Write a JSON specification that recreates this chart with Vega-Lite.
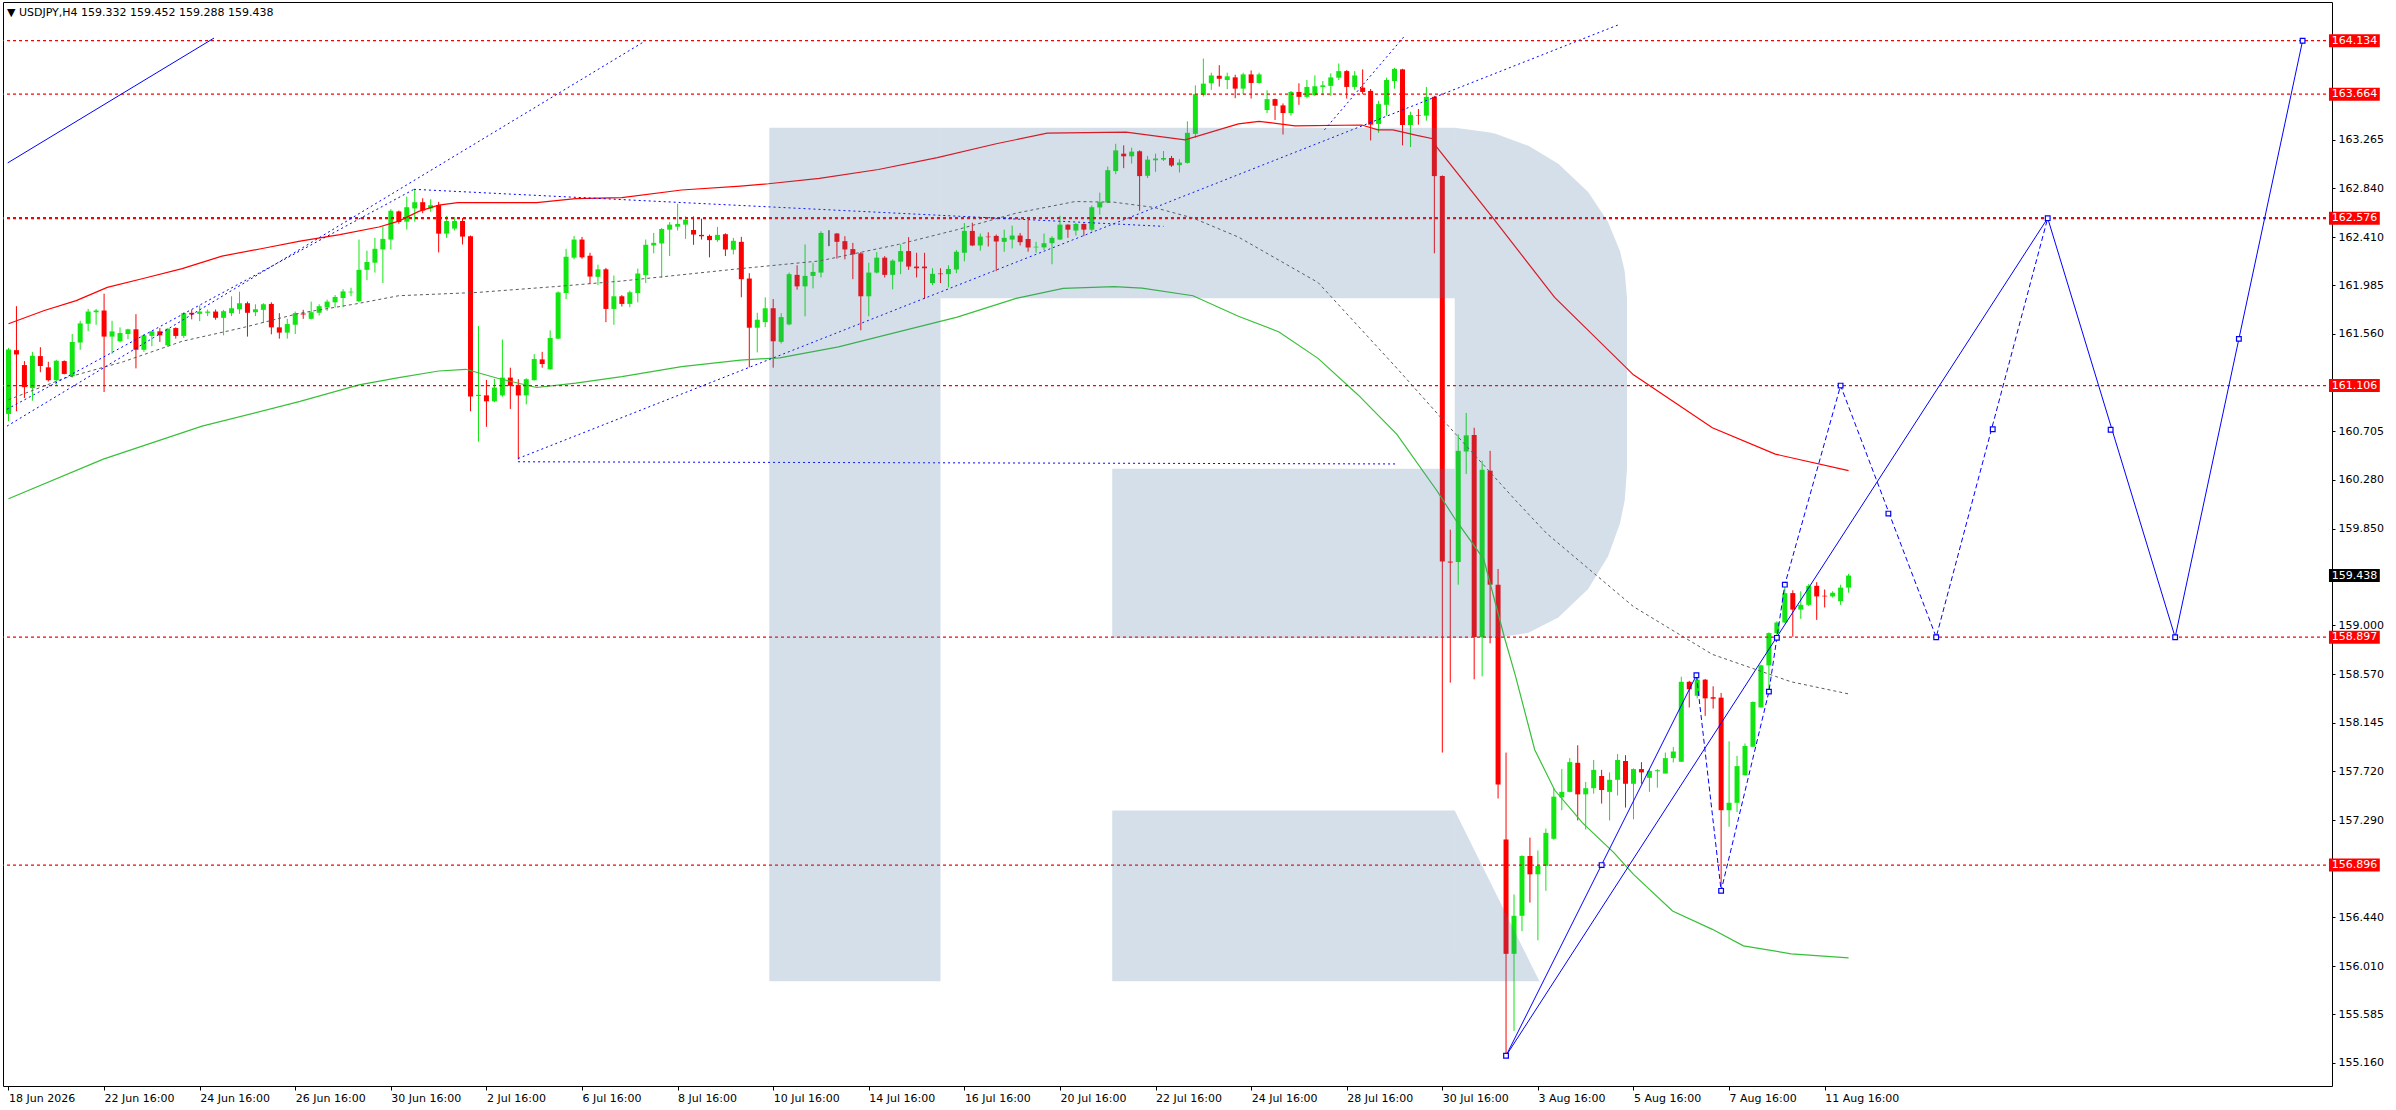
{
  "$schema": "https://vega.github.io/schema/vega-lite/v6.json",
  "width": 2329,
  "height": 1084,
  "autosize": {"type": "none"},
  "padding": {"left": 3, "top": 2, "right": 64, "bottom": 24},
  "background": "#ffffff",
  "title": {"text": "▼  USDJPY,H4  159.332 159.452 159.288 159.438", "anchor": "start", "frame": "group", "offset": -16, "dx": 4, "fontSize": 11, "fontWeight": "normal", "font": "DejaVu Sans", "color": "#000000"},
  "config": {
    "font": "DejaVu Sans",
    "view": {"stroke": "#000000", "strokeWidth": 1},
    "axis": {"labelFont": "DejaVu Sans", "labelFontSize": 11, "labelColor": "#000000", "tickColor": "#000000", "grid": false, "domain": false, "titleOpacity": 0}
  },
  "datasets": {
    "candles": [
      {"i":0,"o":160.857,"h":161.437,"l":160.794,"c":161.423},
      {"i":1,"o":161.417,"h":161.803,"l":160.881,"c":161.379},
      {"i":2,"o":161.286,"h":161.321,"l":160.997,"c":161.092},
      {"i":3,"o":161.084,"h":161.402,"l":160.973,"c":161.368},
      {"i":4,"o":161.365,"h":161.443,"l":161.223,"c":161.278},
      {"i":5,"o":161.266,"h":161.315,"l":161.142,"c":161.153},
      {"i":6,"o":161.153,"h":161.333,"l":161.113,"c":161.324},
      {"i":7,"o":161.321,"h":161.327,"l":161.205,"c":161.208},
      {"i":8,"o":161.188,"h":161.559,"l":161.176,"c":161.489},
      {"i":9,"o":161.484,"h":161.675,"l":161.420,"c":161.652},
      {"i":10,"o":161.649,"h":161.779,"l":161.585,"c":161.756},
      {"i":11,"o":161.750,"h":161.779,"l":161.640,"c":161.765},
      {"i":12,"o":161.765,"h":161.913,"l":161.049,"c":161.536},
      {"i":13,"o":161.536,"h":161.675,"l":161.385,"c":161.582},
      {"i":14,"o":161.495,"h":161.617,"l":161.484,"c":161.568},
      {"i":15,"o":161.559,"h":161.605,"l":161.513,"c":161.600},
      {"i":16,"o":161.600,"h":161.733,"l":161.257,"c":161.420},
      {"i":17,"o":161.420,"h":161.559,"l":161.402,"c":161.547},
      {"i":18,"o":161.542,"h":161.588,"l":161.452,"c":161.582},
      {"i":19,"o":161.582,"h":161.611,"l":161.489,"c":161.547},
      {"i":20,"o":161.460,"h":161.611,"l":161.449,"c":161.605},
      {"i":21,"o":161.611,"h":161.617,"l":161.518,"c":161.542},
      {"i":22,"o":161.542,"h":161.750,"l":161.524,"c":161.742},
      {"i":23,"o":161.745,"h":161.771,"l":161.687,"c":161.730},
      {"i":24,"o":161.736,"h":161.808,"l":161.672,"c":161.756},
      {"i":25,"o":161.745,"h":161.774,"l":161.716,"c":161.756},
      {"i":26,"o":161.756,"h":161.774,"l":161.684,"c":161.701},
      {"i":27,"o":161.701,"h":161.771,"l":161.547,"c":161.759},
      {"i":28,"o":161.742,"h":161.890,"l":161.716,"c":161.785},
      {"i":29,"o":161.776,"h":161.930,"l":161.736,"c":161.829},
      {"i":30,"o":161.829,"h":161.843,"l":161.536,"c":161.745},
      {"i":31,"o":161.750,"h":161.820,"l":161.716,"c":161.776},
      {"i":32,"o":161.771,"h":161.829,"l":161.655,"c":161.820},
      {"i":33,"o":161.823,"h":161.837,"l":161.556,"c":161.617},
      {"i":34,"o":161.617,"h":161.742,"l":161.518,"c":161.571},
      {"i":35,"o":161.571,"h":161.692,"l":161.518,"c":161.646},
      {"i":36,"o":161.640,"h":161.756,"l":161.559,"c":161.742},
      {"i":37,"o":161.739,"h":161.771,"l":161.692,"c":161.730},
      {"i":38,"o":161.692,"h":161.843,"l":161.687,"c":161.750},
      {"i":39,"o":161.745,"h":161.820,"l":161.721,"c":161.803},
      {"i":40,"o":161.791,"h":161.861,"l":161.762,"c":161.843},
      {"i":41,"o":161.837,"h":161.901,"l":161.791,"c":161.884},
      {"i":42,"o":161.875,"h":161.953,"l":161.794,"c":161.933},
      {"i":43,"o":161.924,"h":161.965,"l":161.890,"c":161.930},
      {"i":44,"o":161.846,"h":162.388,"l":161.837,"c":162.122},
      {"i":45,"o":162.122,"h":162.290,"l":162.032,"c":162.191},
      {"i":46,"o":162.185,"h":162.403,"l":162.098,"c":162.307},
      {"i":47,"o":162.301,"h":162.504,"l":162.006,"c":162.394},
      {"i":48,"o":162.388,"h":162.655,"l":162.301,"c":162.641},
      {"i":49,"o":162.635,"h":162.643,"l":162.527,"c":162.542},
      {"i":50,"o":162.545,"h":162.765,"l":162.475,"c":162.672},
      {"i":51,"o":162.661,"h":162.829,"l":162.545,"c":162.716},
      {"i":52,"o":162.716,"h":162.751,"l":162.620,"c":162.643},
      {"i":53,"o":162.661,"h":162.742,"l":162.632,"c":162.690},
      {"i":54,"o":162.690,"h":162.719,"l":162.275,"c":162.440},
      {"i":55,"o":162.440,"h":162.594,"l":162.403,"c":162.551},
      {"i":56,"o":162.484,"h":162.585,"l":162.469,"c":162.551},
      {"i":57,"o":162.551,"h":162.577,"l":162.345,"c":162.414},
      {"i":58,"o":162.417,"h":162.423,"l":160.881,"c":161.011},
      {"i":59,"o":161.014,"h":161.629,"l":160.614,"c":161.025},
      {"i":60,"o":161.020,"h":161.156,"l":160.744,"c":160.968},
      {"i":61,"o":160.968,"h":161.165,"l":160.960,"c":161.089},
      {"i":62,"o":161.020,"h":161.510,"l":161.008,"c":161.176},
      {"i":63,"o":161.176,"h":161.263,"l":160.901,"c":161.104},
      {"i":64,"o":161.112,"h":161.162,"l":160.457,"c":161.020},
      {"i":65,"o":161.020,"h":161.170,"l":160.941,"c":161.162},
      {"i":66,"o":161.153,"h":161.382,"l":161.150,"c":161.339},
      {"i":67,"o":161.336,"h":161.402,"l":161.263,"c":161.295},
      {"i":68,"o":161.249,"h":161.591,"l":161.245,"c":161.524},
      {"i":69,"o":161.518,"h":161.933,"l":161.515,"c":161.924},
      {"i":70,"o":161.919,"h":162.307,"l":161.866,"c":162.237},
      {"i":71,"o":162.229,"h":162.420,"l":162.214,"c":162.388},
      {"i":72,"o":162.388,"h":162.411,"l":162.220,"c":162.232},
      {"i":73,"o":162.246,"h":162.272,"l":161.997,"c":162.063},
      {"i":74,"o":162.061,"h":162.168,"l":161.988,"c":162.127},
      {"i":75,"o":162.127,"h":162.139,"l":161.663,"c":161.779},
      {"i":76,"o":161.779,"h":162.072,"l":161.640,"c":161.890},
      {"i":77,"o":161.890,"h":161.900,"l":161.800,"c":161.823},
      {"i":78,"o":161.823,"h":161.939,"l":161.794,"c":161.925},
      {"i":79,"o":161.919,"h":162.133,"l":161.837,"c":162.090},
      {"i":80,"o":162.075,"h":162.388,"l":162.006,"c":162.342},
      {"i":81,"o":162.336,"h":162.446,"l":162.267,"c":162.359},
      {"i":82,"o":162.354,"h":162.490,"l":162.052,"c":162.481},
      {"i":83,"o":162.475,"h":162.542,"l":162.243,"c":162.519},
      {"i":84,"o":162.501,"h":162.702,"l":162.467,"c":162.525},
      {"i":85,"o":162.519,"h":162.591,"l":162.394,"c":162.562},
      {"i":86,"o":162.472,"h":162.591,"l":162.342,"c":162.432},
      {"i":87,"o":162.429,"h":162.571,"l":162.388,"c":162.417},
      {"i":88,"o":162.420,"h":162.432,"l":162.232,"c":162.383},
      {"i":89,"o":162.383,"h":162.499,"l":162.368,"c":162.429},
      {"i":90,"o":162.435,"h":162.443,"l":162.243,"c":162.301},
      {"i":91,"o":162.299,"h":162.403,"l":162.258,"c":162.377},
      {"i":92,"o":162.368,"h":162.412,"l":161.881,"c":162.040},
      {"i":93,"o":162.046,"h":162.093,"l":161.266,"c":161.614},
      {"i":94,"o":161.614,"h":161.745,"l":161.397,"c":161.684},
      {"i":95,"o":161.663,"h":161.881,"l":161.620,"c":161.785},
      {"i":96,"o":161.785,"h":161.866,"l":161.263,"c":161.495},
      {"i":97,"o":161.490,"h":161.742,"l":161.475,"c":161.707},
      {"i":98,"o":161.643,"h":162.098,"l":161.635,"c":162.084},
      {"i":99,"o":162.078,"h":162.162,"l":161.948,"c":161.977},
      {"i":100,"o":161.977,"h":162.345,"l":161.714,"c":162.069},
      {"i":101,"o":162.069,"h":162.185,"l":161.959,"c":162.104},
      {"i":102,"o":162.098,"h":162.461,"l":162.055,"c":162.446},
      {"i":103,"o":162.446,"h":162.470,"l":162.330,"c":162.446},
      {"i":104,"o":162.441,"h":162.446,"l":162.220,"c":162.368},
      {"i":105,"o":162.374,"h":162.417,"l":162.214,"c":162.301},
      {"i":106,"o":162.304,"h":162.359,"l":162.040,"c":162.258},
      {"i":107,"o":162.267,"h":162.278,"l":161.591,"c":161.890},
      {"i":108,"o":161.890,"h":162.185,"l":161.714,"c":162.098},
      {"i":109,"o":162.098,"h":162.278,"l":162.090,"c":162.229},
      {"i":110,"o":162.229,"h":162.243,"l":162.055,"c":162.078},
      {"i":111,"o":162.078,"h":162.214,"l":161.951,"c":162.203},
      {"i":112,"o":162.194,"h":162.345,"l":162.084,"c":162.287},
      {"i":113,"o":162.287,"h":162.409,"l":162.122,"c":162.151},
      {"i":114,"o":162.151,"h":162.272,"l":162.055,"c":162.136},
      {"i":115,"o":162.151,"h":162.272,"l":161.866,"c":162.136},
      {"i":116,"o":162.006,"h":162.136,"l":161.988,"c":162.087},
      {"i":117,"o":162.090,"h":162.136,"l":162.006,"c":162.084},
      {"i":118,"o":162.084,"h":162.162,"l":161.968,"c":162.130},
      {"i":119,"o":162.125,"h":162.296,"l":162.093,"c":162.281},
      {"i":120,"o":162.272,"h":162.533,"l":162.197,"c":162.464},
      {"i":121,"o":162.464,"h":162.536,"l":162.330,"c":162.336},
      {"i":122,"o":162.336,"h":162.441,"l":162.290,"c":162.414},
      {"i":123,"o":162.414,"h":162.452,"l":162.327,"c":162.409},
      {"i":124,"o":162.420,"h":162.432,"l":162.110,"c":162.371},
      {"i":125,"o":162.368,"h":162.475,"l":162.281,"c":162.403},
      {"i":126,"o":162.388,"h":162.510,"l":162.310,"c":162.423},
      {"i":127,"o":162.423,"h":162.446,"l":162.336,"c":162.365},
      {"i":128,"o":162.394,"h":162.562,"l":162.281,"c":162.319},
      {"i":129,"o":162.319,"h":162.368,"l":162.272,"c":162.325},
      {"i":130,"o":162.319,"h":162.441,"l":162.296,"c":162.356},
      {"i":131,"o":162.356,"h":162.417,"l":162.171,"c":162.403},
      {"i":132,"o":162.388,"h":162.597,"l":162.383,"c":162.519},
      {"i":133,"o":162.519,"h":162.522,"l":162.403,"c":162.475},
      {"i":134,"o":162.467,"h":162.533,"l":162.423,"c":162.525},
      {"i":135,"o":162.525,"h":162.530,"l":162.417,"c":162.475},
      {"i":136,"o":162.475,"h":162.687,"l":162.458,"c":162.672},
      {"i":137,"o":162.670,"h":162.800,"l":162.606,"c":162.716},
      {"i":138,"o":162.713,"h":163.029,"l":162.707,"c":162.997},
      {"i":139,"o":162.989,"h":163.229,"l":162.962,"c":163.171},
      {"i":140,"o":163.142,"h":163.215,"l":163.015,"c":163.119},
      {"i":141,"o":163.119,"h":163.194,"l":163.055,"c":163.160},
      {"i":142,"o":163.163,"h":163.171,"l":162.641,"c":162.945},
      {"i":143,"o":162.948,"h":163.122,"l":162.928,"c":163.090},
      {"i":144,"o":163.084,"h":163.142,"l":162.983,"c":163.099},
      {"i":145,"o":163.090,"h":163.165,"l":163.078,"c":163.104},
      {"i":146,"o":163.104,"h":163.122,"l":163.026,"c":163.038},
      {"i":147,"o":163.041,"h":163.093,"l":162.977,"c":163.064},
      {"i":148,"o":163.061,"h":163.426,"l":163.055,"c":163.325},
      {"i":149,"o":163.316,"h":163.742,"l":163.281,"c":163.664},
      {"i":150,"o":163.658,"h":163.977,"l":163.644,"c":163.757},
      {"i":151,"o":163.760,"h":163.853,"l":163.702,"c":163.829},
      {"i":152,"o":163.826,"h":163.919,"l":163.731,"c":163.800},
      {"i":153,"o":163.789,"h":163.853,"l":163.708,"c":163.821},
      {"i":154,"o":163.812,"h":163.835,"l":163.629,"c":163.713},
      {"i":155,"o":163.713,"h":163.853,"l":163.664,"c":163.838},
      {"i":156,"o":163.838,"h":163.873,"l":163.626,"c":163.763},
      {"i":157,"o":163.763,"h":163.853,"l":163.757,"c":163.838},
      {"i":158,"o":163.525,"h":163.699,"l":163.499,"c":163.621},
      {"i":159,"o":163.621,"h":163.626,"l":163.438,"c":163.563},
      {"i":160,"o":163.566,"h":163.583,"l":163.310,"c":163.499},
      {"i":161,"o":163.499,"h":163.693,"l":163.476,"c":163.684},
      {"i":162,"o":163.684,"h":163.760,"l":163.571,"c":163.641},
      {"i":163,"o":163.641,"h":163.789,"l":163.629,"c":163.728},
      {"i":164,"o":163.655,"h":163.829,"l":163.650,"c":163.734},
      {"i":165,"o":163.728,"h":163.780,"l":163.655,"c":163.742},
      {"i":166,"o":163.737,"h":163.847,"l":163.650,"c":163.812},
      {"i":167,"o":163.809,"h":163.934,"l":163.789,"c":163.867},
      {"i":168,"o":163.867,"h":163.876,"l":163.626,"c":163.728},
      {"i":169,"o":163.728,"h":163.867,"l":163.702,"c":163.829},
      {"i":170,"o":163.722,"h":163.882,"l":163.664,"c":163.684},
      {"i":171,"o":163.693,"h":163.710,"l":163.258,"c":163.397},
      {"i":172,"o":163.403,"h":163.606,"l":163.325,"c":163.577},
      {"i":173,"o":163.571,"h":163.809,"l":163.476,"c":163.789},
      {"i":174,"o":163.780,"h":163.896,"l":163.713,"c":163.887},
      {"i":175,"o":163.882,"h":163.887,"l":163.215,"c":163.394},
      {"i":176,"o":163.394,"h":163.510,"l":163.200,"c":163.481},
      {"i":177,"o":163.481,"h":163.534,"l":163.397,"c":163.476},
      {"i":178,"o":163.476,"h":163.728,"l":163.432,"c":163.641},
      {"i":179,"o":163.641,"h":163.650,"l":162.267,"c":162.945},
      {"i":180,"o":162.945,"h":162.951,"l":157.884,"c":159.561},
      {"i":181,"o":159.561,"h":159.841,"l":158.498,"c":159.552},
      {"i":182,"o":159.557,"h":160.678,"l":159.358,"c":160.533},
      {"i":183,"o":160.527,"h":160.866,"l":160.330,"c":160.669},
      {"i":184,"o":160.672,"h":160.736,"l":158.527,"c":158.898},
      {"i":185,"o":158.898,"h":160.446,"l":158.553,"c":160.367},
      {"i":186,"o":160.359,"h":160.533,"l":158.843,"c":159.358},
      {"i":187,"o":159.358,"h":159.496,"l":157.481,"c":157.604},
      {"i":188,"o":157.121,"h":157.884,"l":155.222,"c":156.117},
      {"i":189,"o":156.117,"h":156.638,"l":155.441,"c":156.451},
      {"i":190,"o":156.451,"h":156.982,"l":156.316,"c":156.976},
      {"i":191,"o":156.976,"h":157.137,"l":156.567,"c":156.815},
      {"i":192,"o":156.815,"h":157.024,"l":156.236,"c":156.889},
      {"i":193,"o":156.889,"h":157.217,"l":156.670,"c":157.179},
      {"i":194,"o":157.127,"h":157.571,"l":157.120,"c":157.497},
      {"i":195,"o":157.491,"h":157.739,"l":157.378,"c":157.539},
      {"i":196,"o":157.539,"h":157.835,"l":157.535,"c":157.800},
      {"i":197,"o":157.794,"h":157.948,"l":157.288,"c":157.517},
      {"i":198,"o":157.517,"h":157.626,"l":157.208,"c":157.571},
      {"i":199,"o":157.571,"h":157.819,"l":157.523,"c":157.732},
      {"i":200,"o":157.678,"h":157.732,"l":157.436,"c":157.555},
      {"i":201,"o":157.539,"h":157.710,"l":157.288,"c":157.645},
      {"i":202,"o":157.645,"h":157.871,"l":157.507,"c":157.819},
      {"i":203,"o":157.810,"h":157.861,"l":157.401,"c":157.610},
      {"i":204,"o":157.610,"h":157.745,"l":157.298,"c":157.739},
      {"i":205,"o":157.739,"h":157.800,"l":157.610,"c":157.710},
      {"i":206,"o":157.662,"h":157.739,"l":157.539,"c":157.723},
      {"i":207,"o":157.720,"h":157.739,"l":157.576,"c":157.729},
      {"i":208,"o":157.700,"h":157.884,"l":157.700,"c":157.835},
      {"i":209,"o":157.835,"h":157.932,"l":157.797,"c":157.893},
      {"i":210,"o":157.803,"h":158.550,"l":157.803,"c":158.505},
      {"i":211,"o":158.505,"h":158.514,"l":158.280,"c":158.440},
      {"i":212,"o":158.383,"h":158.563,"l":158.360,"c":158.524},
      {"i":213,"o":158.524,"h":158.530,"l":158.206,"c":158.360},
      {"i":214,"o":158.370,"h":158.466,"l":158.270,"c":158.357},
      {"i":215,"o":158.366,"h":158.408,"l":156.686,"c":157.378},
      {"i":216,"o":157.378,"h":157.983,"l":157.233,"c":157.443},
      {"i":217,"o":157.443,"h":157.855,"l":157.362,"c":157.765},
      {"i":218,"o":157.684,"h":157.964,"l":157.684,"c":157.942},
      {"i":219,"o":157.935,"h":158.334,"l":157.935,"c":158.328},
      {"i":220,"o":158.280,"h":158.656,"l":158.280,"c":158.650},
      {"i":221,"o":158.650,"h":158.939,"l":158.440,"c":158.933},
      {"i":222,"o":158.933,"h":159.036,"l":158.881,"c":159.026},
      {"i":223,"o":159.026,"h":159.358,"l":159.020,"c":159.284},
      {"i":224,"o":159.284,"h":159.309,"l":158.901,"c":159.139},
      {"i":225,"o":159.139,"h":159.300,"l":159.058,"c":159.181},
      {"i":226,"o":159.181,"h":159.364,"l":159.170,"c":159.348},
      {"i":227,"o":159.348,"h":159.380,"l":159.049,"c":159.255},
      {"i":228,"o":159.261,"h":159.316,"l":159.158,"c":159.255},
      {"i":229,"o":159.255,"h":159.300,"l":159.245,"c":159.287},
      {"i":230,"o":159.213,"h":159.358,"l":159.181,"c":159.332},
      {"i":231,"o":159.332,"h":159.452,"l":159.288,"c":159.438}
    ],
    "ma": [
      {"s":"red","i":0,"v":161.649},{"s":"red","i":4.5,"v":161.765},{"s":"red","i":8.5,"v":161.852},{"s":"red","i":12.4,"v":161.968},
      {"s":"red","i":16.9,"v":162.046},{"s":"red","i":21.8,"v":162.133},{"s":"red","i":26.8,"v":162.243},{"s":"red","i":31.7,"v":162.307},
      {"s":"red","i":36.6,"v":162.374},{"s":"red","i":41.6,"v":162.432},{"s":"red","i":46.5,"v":162.498},{"s":"red","i":49,"v":162.55},
      {"s":"red","i":51.5,"v":162.635},{"s":"red","i":54,"v":162.69},{"s":"red","i":56.4,"v":162.713},{"s":"red","i":66.3,"v":162.713},
      {"s":"red","i":71.2,"v":162.748},{"s":"red","i":77,"v":162.757},{"s":"red","i":84.5,"v":162.823},{"s":"red","i":91.9,"v":162.858},
      {"s":"red","i":95.4,"v":162.878},{"s":"red","i":101.8,"v":162.925},{"s":"red","i":109.2,"v":163.003},{"s":"red","i":116.6,"v":163.107},
      {"s":"red","i":124,"v":163.229},{"s":"red","i":130.4,"v":163.322},{"s":"red","i":140.3,"v":163.331},{"s":"red","i":147.7,"v":163.264},
      {"s":"red","i":154.4,"v":163.403},{"s":"red","i":157,"v":163.426},{"s":"red","i":161.5,"v":163.386},{"s":"red","i":169.9,"v":163.394},
      {"s":"red","i":171.9,"v":163.351},{"s":"red","i":173.8,"v":163.351},{"s":"red","i":176.8,"v":163.302},{"s":"red","i":178.8,"v":163.273},
      {"s":"red","i":179.3,"v":163.2},{"s":"red","i":186.2,"v":162.591},{"s":"red","i":194.1,"v":161.881},{"s":"red","i":204,"v":161.2},
      {"s":"red","i":213.9,"v":160.736},{"s":"red","i":221.8,"v":160.504},{"s":"red","i":231,"v":160.359},
      {"s":"green","i":0,"v":160.112},{"s":"green","i":11.9,"v":160.46},{"s":"green","i":24.3,"v":160.75},{"s":"green","i":36.6,"v":160.967},
      {"s":"green","i":44,"v":161.112},{"s":"green","i":49,"v":161.176},{"s":"green","i":54,"v":161.234},{"s":"green","i":57.4,"v":161.249},
      {"s":"green","i":61.4,"v":161.17},{"s":"green","i":66.3,"v":161.089},{"s":"green","i":71.2,"v":161.127},{"s":"green","i":77,"v":161.185},
      {"s":"green","i":84.5,"v":161.272},{"s":"green","i":91.9,"v":161.33},{"s":"green","i":96.8,"v":161.35},{"s":"green","i":104.2,"v":161.446},
      {"s":"green","i":111.7,"v":161.577},{"s":"green","i":119.1,"v":161.707},{"s":"green","i":126.5,"v":161.872},{"s":"green","i":132.4,"v":161.959},
      {"s":"green","i":138.8,"v":161.974},{"s":"green","i":142.3,"v":161.962},{"s":"green","i":148.7,"v":161.895},{"s":"green","i":154.4,"v":161.715},
      {"s":"green","i":159.5,"v":161.577},{"s":"green","i":164.4,"v":161.345},{"s":"green","i":169.4,"v":161.026},{"s":"green","i":174.3,"v":160.678},
      {"s":"green","i":179.3,"v":160.185},{"s":"green","i":181.7,"v":159.924},{"s":"green","i":185.2,"v":159.583},{"s":"green","i":187.8,"v":158.894},
      {"s":"green","i":189.2,"v":158.553},{"s":"green","i":191.6,"v":157.909},{"s":"green","i":194.1,"v":157.555},{"s":"green","i":197.6,"v":157.266},
      {"s":"green","i":201.5,"v":157.008},{"s":"green","i":204,"v":156.815},{"s":"green","i":208.9,"v":156.493},{"s":"green","i":213.9,"v":156.332},
      {"s":"green","i":217.8,"v":156.187},{"s":"green","i":223.8,"v":156.117},{"s":"green","i":231,"v":156.081},
      {"s":"grey","i":0,"v":160.982},{"s":"grey","i":7,"v":161.17},{"s":"grey","i":14.4,"v":161.315},{"s":"grey","i":21.8,"v":161.495},
      {"s":"grey","i":29.2,"v":161.611},{"s":"grey","i":36.6,"v":161.742},{"s":"grey","i":43.6,"v":161.823},{"s":"grey","i":49,"v":161.895},
      {"s":"grey","i":58.9,"v":161.924},{"s":"grey","i":68.8,"v":161.976},{"s":"grey","i":77,"v":162.024},{"s":"grey","i":91.9,"v":162.133},
      {"s":"grey","i":101.8,"v":162.2},{"s":"grey","i":111.7,"v":162.345},{"s":"grey","i":119.1,"v":162.475},{"s":"grey","i":126.5,"v":162.62},
      {"s":"grey","i":133.9,"v":162.722},{"s":"grey","i":138.8,"v":162.716},{"s":"grey","i":143.8,"v":162.67},{"s":"grey","i":148.7,"v":162.577},
      {"s":"grey","i":154.4,"v":162.41},{"s":"grey","i":164.4,"v":162.011},{"s":"grey","i":174.3,"v":161.258},{"s":"grey","i":181.7,"v":160.678},
      {"s":"grey","i":189.2,"v":160.098},{"s":"grey","i":193.1,"v":159.808},{"s":"grey","i":199.1,"v":159.454},{"s":"grey","i":204,"v":159.165},
      {"s":"grey","i":213.9,"v":158.746},{"s":"grey","i":223.8,"v":158.505},{"s":"grey","i":231,"v":158.399}
    ],
    "blue": [
      {"s":"T","k":"solid","i":-0.1,"p":163.061},{"s":"T","k":"solid","i":25.8,"p":164.157},
      {"s":"L1","k":"dot","i":63.97,"p":160.466},{"s":"L1","k":"dot","i":202.1,"p":164.273},
      {"s":"L2","k":"dot","i":63.97,"p":160.437},{"s":"L2","k":"dot","i":174.1,"p":160.418},
      {"s":"L3","k":"dot","i":-0.2,"p":160.898},{"s":"L3","k":"dot","i":50.9,"p":162.829},
      {"s":"L4","k":"dot","i":50.9,"p":162.829},{"s":"L4","k":"dot","i":145.0,"p":162.504},
      {"s":"L5","k":"dot","i":-0.19,"p":160.75},{"s":"L5","k":"dot","i":79.8,"p":164.126},
      {"s":"L6","k":"dot","i":165.2,"p":163.351},{"s":"L6","k":"dot","i":175.2,"p":164.17},
      {"s":"F1","k":"solid","i":188,"p":155.222},{"s":"F1","k":"solid","i":256,"p":162.576},{"s":"F1","k":"solid","i":272,"p":158.897},{"s":"F1","k":"solid","i":288,"p":164.134},
      {"s":"F2","k":"solid","i":188,"p":155.222},{"s":"F2","k":"solid","i":211.9,"p":158.563},
      {"s":"Z","k":"dash","i":211.9,"p":158.563},{"s":"Z","k":"dash","i":215,"p":156.67},{"s":"Z","k":"dash","i":221,"p":158.419},
      {"s":"Z","k":"dash","i":222,"p":158.891},{"s":"Z","k":"dash","i":223,"p":159.358},{"s":"Z","k":"dash","i":230,"p":161.106},
      {"s":"Z","k":"dash","i":242,"p":158.897},{"s":"Z","k":"dash","i":256,"p":162.576}
    ],
    "marks": [
      {"i":188,"p":155.222},{"i":200,"p":156.896},{"i":211.9,"p":158.563},{"i":215,"p":156.67},
      {"i":221,"p":158.419},{"i":222,"p":158.891},{"i":223,"p":159.358},{"i":230,"p":161.106},
      {"i":236,"p":159.982},{"i":242,"p":158.897},{"i":249.1,"p":160.722},{"i":256,"p":162.576},
      {"i":263.9,"p":160.718},{"i":272,"p":158.897},{"i":280,"p":161.516},{"i":288,"p":164.134}
    ],
    "levels": [
      {"p":164.134},{"p":163.664},{"p":162.576},{"p":161.106},{"p":158.897},{"p":156.896}
    ],
    "tags": [
      {"p":164.134,"k":"level"},{"p":163.664,"k":"level"},{"p":162.576,"k":"level"},{"p":161.106,"k":"level"},
      {"p":159.438,"k":"last"},{"p":158.897,"k":"level"},{"p":156.896,"k":"level"}
    ],
    "logoRects": [
      {"x1":95.51,"x2":117.0,"y1":155.876,"y2":163.37},
      {"x1":117.0,"x2":181.56,"y1":161.872,"y2":163.37},
      {"x1":138.56,"x2":181.56,"y1":158.889,"y2":160.376},
      {"x1":138.56,"x2":181.56,"y1":155.876,"y2":157.375}
    ],
    "logoAreas": [
      {"s":"bowl","i":181.56,"t":163.37,"b":158.889},{"s":"bowl","i":185.81,"t":163.33,"b":158.889},
      {"s":"bowl","i":186.69,"t":163.316,"b":158.889},{"s":"bowl","i":190.81,"t":163.211,"b":158.936},
      {"s":"bowl","i":194.56,"t":163.053,"b":159.069},{"s":"bowl","i":198.31,"t":162.805,"b":159.32},
      {"s":"bowl","i":200.81,"t":162.543,"b":159.607},{"s":"bowl","i":202.31,"t":162.286,"b":159.898},
      {"s":"bowl","i":202.9,"t":162.107,"b":160.1},{"s":"bowl","i":203.19,"t":161.872,"b":160.376},
      {"s":"leg","i":181.56,"t":157.375,"b":155.876},{"s":"leg","i":192.19,"t":155.876,"b":155.876}
    ]
  },
  "layer": [
    {
      "data": {"name": "candles"},
      "mark": {"type": "rule", "strokeWidth": 1, "clip": true},
      "encoding": {
        "x": {"field": "i", "type": "quantitative", "title": null, "scale": {"domain": [-0.0625, 291.0625], "nice": false, "zero": false},
          "axis": {"orient": "bottom", "title": null, "values": [0,12,24,36,48,60,72,84,96,108,120,132,144,156,168,180,192,204,216,228],
            "labelExpr": "['18 Jun 2026','22 Jun 16:00','24 Jun 16:00','26 Jun 16:00','30 Jun 16:00','2 Jul 16:00','6 Jul 16:00','8 Jul 16:00','10 Jul 16:00','14 Jul 16:00','16 Jul 16:00','20 Jul 16:00','22 Jul 16:00','24 Jul 16:00','28 Jul 16:00','30 Jul 16:00','3 Aug 16:00','5 Aug 16:00','7 Aug 16:00','11 Aug 16:00'][round(datum.value/12)]",
            "labelAlign": "left", "labelBaseline": "top", "labelPadding": 2, "tickSize": 4, "labelFlush": false, "labelOverlap": false, "labelBound": false}},
        "y": {"field": "l", "type": "quantitative", "title": null, "scale": {"domain": [155.0004, 164.4298], "nice": false, "zero": false},
          "axis": {"orient": "right", "title": null, "values": [163.265,162.84,162.41,161.985,161.56,160.705,160.28,159.85,159.0,158.57,158.145,157.72,157.29,156.44,156.01,155.585,155.16],
            "format": ".3f", "tickSize": 3, "labelPadding": 3, "labelBaseline": "middle", "labelAlign": "left", "labelOverlap": false, "labelFlush": false}},
        "y2": {"field": "h"},
        "color": {"condition": [{"test": "datum.c > datum.o", "value": "#12e612"}, {"test": "datum.c < datum.o", "value": "#ff0000"}], "value": "#000000"}
      }
    },
    {
      "data": {"name": "candles"},
      "mark": {"type": "bar", "size": 5, "clip": true, "orient": "vertical", "minBandSize": 1},
      "encoding": {
        "x": {"field": "i", "type": "quantitative", "title": null},
        "y": {"field": "o", "type": "quantitative", "title": null},
        "y2": {"field": "c"},
        "color": {"condition": [{"test": "datum.c > datum.o", "value": "#12e612"}, {"test": "datum.c < datum.o", "value": "#ff0000"}], "value": "#000000"}
      }
    },
    {
      "data": {"name": "ma"},
      "transform": [{"filter": "datum.s == 'grey'"}],
      "mark": {"type": "line", "color": "#5a5a5a", "strokeWidth": 1, "strokeDash": [3, 3], "clip": true},
      "encoding": {"x": {"field": "i", "type": "quantitative", "title": null}, "y": {"field": "v", "type": "quantitative", "title": null}}
    },
    {
      "data": {"name": "ma"},
      "transform": [{"filter": "datum.s == 'red'"}],
      "mark": {"type": "line", "color": "#ff0000", "strokeWidth": 1.2, "clip": true},
      "encoding": {"x": {"field": "i", "type": "quantitative", "title": null}, "y": {"field": "v", "type": "quantitative", "title": null}}
    },
    {
      "data": {"name": "ma"},
      "transform": [{"filter": "datum.s == 'green'"}],
      "mark": {"type": "line", "color": "#38c038", "strokeWidth": 1.2, "clip": true},
      "encoding": {"x": {"field": "i", "type": "quantitative", "title": null}, "y": {"field": "v", "type": "quantitative", "title": null}}
    },
    {
      "data": {"name": "levels"},
      "mark": {"type": "rule", "color": "#ff0000", "strokeDash": [3, 3], "clip": true},
      "encoding": {
        "y": {"field": "p", "type": "quantitative", "title": null},
        "strokeWidth": {"condition": {"test": "datum.p == 162.576", "value": 2.2}, "value": 1.2}
      }
    },
    {
      "data": {"name": "blue"},
      "transform": [{"filter": "datum.k == 'dot'"}],
      "mark": {"type": "line", "color": "#0000ff", "strokeWidth": 1, "strokeDash": [2, 3], "clip": true},
      "encoding": {"x": {"field": "i", "type": "quantitative", "title": null}, "y": {"field": "p", "type": "quantitative", "title": null}, "detail": {"field": "s"}}
    },
    {
      "data": {"name": "blue"},
      "transform": [{"filter": "datum.k == 'solid'"}],
      "mark": {"type": "line", "color": "#0000ff", "strokeWidth": 1, "clip": true},
      "encoding": {"x": {"field": "i", "type": "quantitative", "title": null}, "y": {"field": "p", "type": "quantitative", "title": null}, "detail": {"field": "s"}}
    },
    {
      "data": {"name": "blue"},
      "transform": [{"filter": "datum.k == 'dash'"}],
      "mark": {"type": "line", "color": "#0000ff", "strokeWidth": 1, "strokeDash": [5, 3], "clip": true},
      "encoding": {"x": {"field": "i", "type": "quantitative", "title": null}, "y": {"field": "p", "type": "quantitative", "title": null}, "detail": {"field": "s"}}
    },
    {
      "data": {"name": "marks"},
      "mark": {"type": "point", "shape": "square", "size": 22, "filled": true, "fill": "#ffffff", "stroke": "#0000ff", "strokeWidth": 1.2, "opacity": 1, "clip": true},
      "encoding": {"x": {"field": "i", "type": "quantitative", "title": null}, "y": {"field": "p", "type": "quantitative", "title": null}}
    },
    {
      "data": {"name": "logoRects"},
      "mark": {"type": "rect", "color": "#4874a4", "opacity": 0.23, "clip": true},
      "encoding": {
        "x": {"field": "x1", "type": "quantitative", "title": null}, "x2": {"field": "x2"},
        "y": {"field": "y1", "type": "quantitative", "title": null}, "y2": {"field": "y2"}
      }
    },
    {
      "data": {"name": "logoAreas"},
      "mark": {"type": "area", "color": "#4874a4", "opacity": 0.23, "clip": true},
      "encoding": {
        "x": {"field": "i", "type": "quantitative", "title": null},
        "y": {"field": "t", "type": "quantitative", "title": null}, "y2": {"field": "b"},
        "detail": {"field": "s"}
      }
    },
    {
      "data": {"name": "tags"},
      "mark": {"type": "bar", "orient": "horizontal", "size": 13, "clip": false},
      "encoding": {
        "x": {"datum": 291.31, "type": "quantitative", "title": null}, "x2": {"datum": 297.69},
        "y": {"field": "p", "type": "quantitative", "title": null},
        "color": {"condition": {"test": "datum.k == 'last'", "value": "#000000"}, "value": "#ff0000"}
      }
    },
    {
      "data": {"name": "tags"},
      "mark": {"type": "text", "align": "left", "baseline": "middle", "fontSize": 11, "font": "DejaVu Sans", "color": "#ffffff", "clip": false},
      "encoding": {
        "x": {"datum": 291.65, "type": "quantitative", "title": null},
        "y": {"field": "p", "type": "quantitative", "title": null},
        "text": {"field": "p", "type": "quantitative", "format": ".3f"}
      }
    }
  ]
}
